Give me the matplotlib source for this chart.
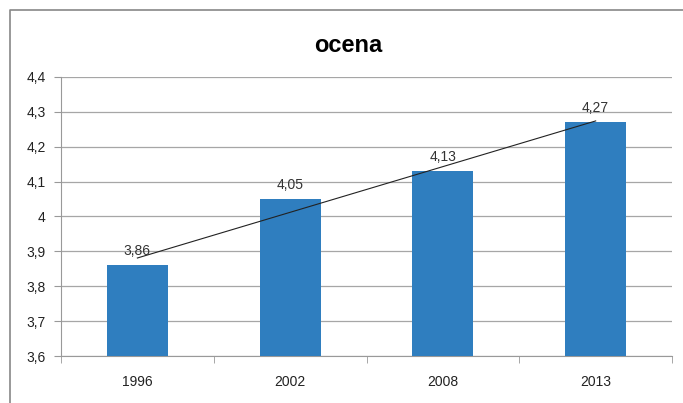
import numpy as np
import matplotlib.pyplot as plt
from matplotlib.lines import Line2D

# data
years = ['1996', '2002', '2008', '2013']
ocena = [3.86, 4.05, 4.13, 4.27]
y_ticks = [3.6, 3.7, 3.8, 3.9, 4.0, 4.1, 4.2, 4.3, 4.4]

plt.rcParams['font.family'] = ['Liberation Sans', 'DejaVu Sans']

fig = plt.figure(figsize=(6.83, 4.03), dpi=100)
ax = fig.add_axes([0.0893, 0.1166, 0.8947, 0.6924])

x = np.arange(len(years))
ax.bar(x, ocena, width=0.4, color='#2f7ebf', zorder=3)

# value labels
for xi, v in zip(x, ocena):
    ax.annotate(f'{v:.2f}'.replace('.', ','), (xi, v), xytext=(0, 5),
                textcoords='offset points', ha='center', va='bottom',
                fontsize=10, color='#333333', zorder=5)

# linear trendline
k, b = np.polyfit(x, ocena, 1)
ax.plot(x[[0, -1]], k * x[[0, -1]] + b, color='#222222', lw=0.8, zorder=4)

ax.set_xlim(-0.5, len(years) - 0.5)
ax.set_ylim(3.6, 4.4)
ax.set_yticks(y_ticks)
ax.set_yticklabels([f'{t:g}'.replace('.', ',') for t in y_ticks], fontsize=10, color='#222222')
ax.set_xticks(x)
ax.set_xticklabels(years, fontsize=10, color='#222222')
ax.set_xticks(np.arange(len(years) + 1) - 0.5, minor=True)
ax.tick_params(axis='x', which='major', length=0, pad=14)
ax.tick_params(axis='x', which='minor', length=5, color='#999999')
ax.tick_params(axis='y', length=5, color='#999999', pad=6)

ax.grid(axis='y', color='#a6a6a6', lw=0.9, zorder=0)
for s in ['top', 'right']:
    ax.spines[s].set_visible(False)
ax.spines['left'].set_color('#999999')
ax.spines['bottom'].set_color('#999999')

fig.text(0.51, 0.888, 'ocena', ha='center', va='center', fontsize=17, fontweight='bold')

# chart border (partly cut off in the original)
fig.add_artist(Line2D([10 / 683, 10 / 683, 1.0], [0.0, 1 - 10 / 403, 1 - 10 / 403],
                      transform=fig.transFigure, color='#888888', lw=1.2))

fig.savefig('out.png', dpi=100)
